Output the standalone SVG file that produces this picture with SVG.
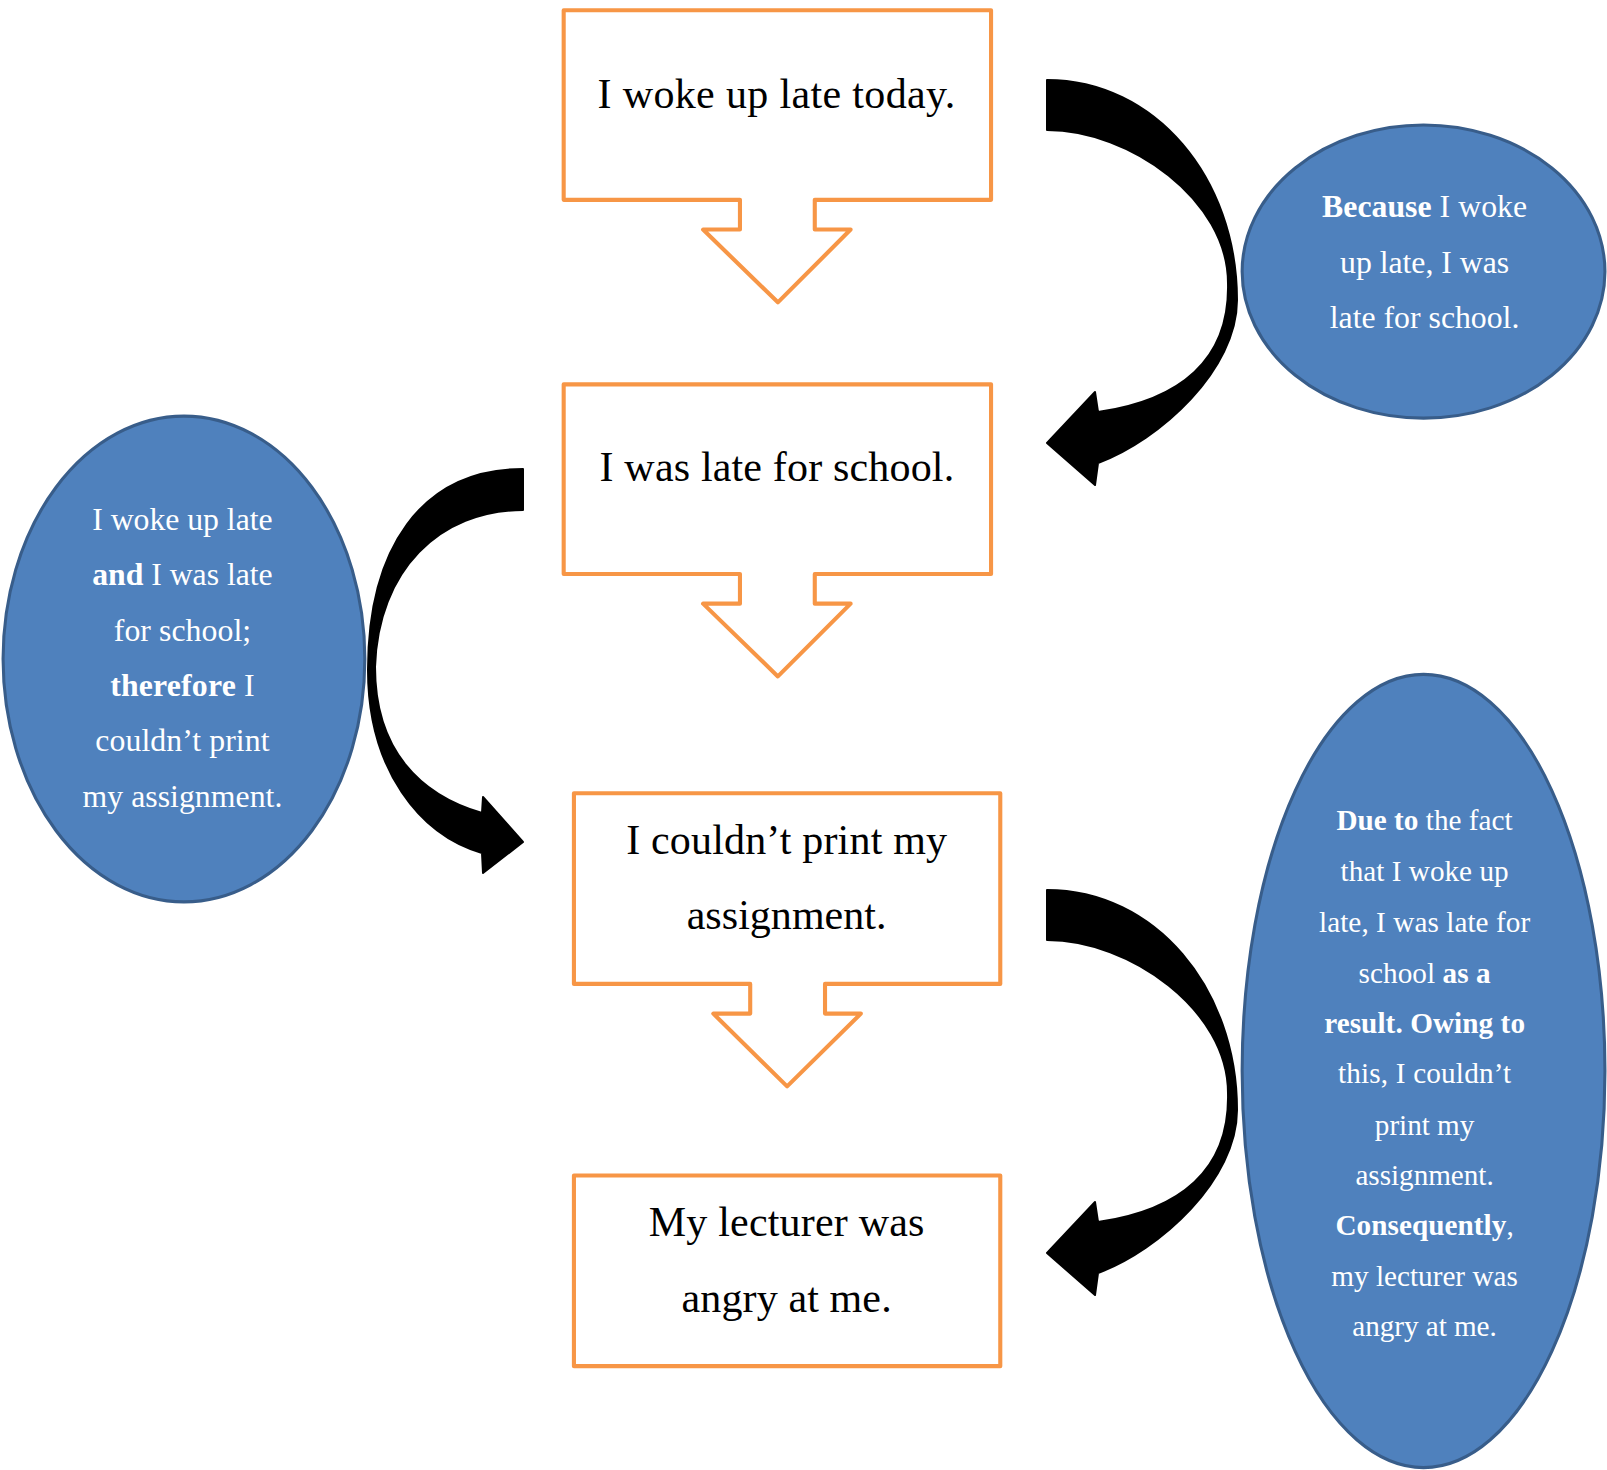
<svg xmlns="http://www.w3.org/2000/svg" width="1607" height="1470" viewBox="0 0 1607 1470">
<style>
.box{fill:#FFFFFF;stroke:#F79646;stroke-width:4;stroke-linejoin:round}
.oval{fill:#4F81BD;stroke:#385D8A;stroke-width:3}
.bt{font-family:"Liberation Serif","Times New Roman",serif;font-size:41px;fill:#000000;text-anchor:middle}
.ot{font-family:"Liberation Serif","Times New Roman",serif;font-size:31px;fill:#FFFFFF;text-anchor:middle}
.ot3{font-family:"Liberation Serif","Times New Roman",serif;font-size:28.5px;fill:#FFFFFF;text-anchor:middle}
.b{font-weight:bold}
.arr{fill:#000000;stroke:#000000;stroke-width:2;stroke-linejoin:round}
</style>
<defs>
<path id="curvedLeft" d="M1047,80 C1155,80 1237,178 1237,300 C1237,370 1160,440 1098,463 L1095,485 L1047,443 L1095,392 L1098,412 C1180,400 1230,360 1228,283 C1228,200 1130,130 1047,130 Z"/>
</defs>
<rect width="1607" height="1470" fill="#FFFFFF"/>
<g id="connectors">
<use href="#curvedLeft" class="arr"/>
<path class="arr" d="M523,469 C420,469 368,550 368,670 C368,770 420,835 482,853 L483,873 L523,842 L483,797 L482,813 C420,795 375,750 375,667 C378,570 440,510 523,510 Z"/>
<use href="#curvedLeft" class="arr" transform="translate(0,810)"/>
</g>
<g transform="scale(1.024872)">
<g id="box1">
<path class="box" d="M550,10 H967 V195 H795 V224 H830 L759,295 L686,224 H722 V195 H550 Z"/>
<text class="bt" x="757.5" y="105" textLength="349" lengthAdjust="spacing">I woke up late today.</text>
</g>
<g id="box2">
<path class="box" d="M550,375 H967 V560 H795 V589 H830 L759,660 L686,589 H722 V560 H550 Z"/>
<text class="bt" x="758" y="469" textLength="346" lengthAdjust="spacing">I was late for school.</text>
</g>
<g id="box3">
<path class="box" d="M560,774 H976 V960 H805 V989 H840 L768,1060 L696,989 H732 V960 H560 Z"/>
<text class="bt" x="767.5" y="833" textLength="313" lengthAdjust="spacing">I couldn’t print my</text>
<text class="bt" x="767.5" y="906" textLength="195" lengthAdjust="spacing">assignment.</text>
</g>
<g id="box4">
<rect class="box" x="560" y="1147" width="416" height="186"/>
<text class="bt" x="767.5" y="1206" textLength="269" lengthAdjust="spacing">My lecturer was</text>
<text class="bt" x="767.5" y="1280" textLength="205" lengthAdjust="spacing">angry at me.</text>
</g>
<g id="oval1">
<ellipse class="oval" cx="1389" cy="265" rx="177" ry="143"/>
<text class="ot" x="1390" y="212" textLength="200" lengthAdjust="spacing"><tspan class="b">Because</tspan> I woke</text>
<text class="ot" x="1390" y="266" textLength="165" lengthAdjust="spacing">up late, I was</text>
<text class="ot" x="1390" y="320" textLength="185" lengthAdjust="spacing">late for school.</text>
</g>
<g id="oval2">
<ellipse class="oval" cx="179.5" cy="643" rx="176.5" ry="237"/>
<text class="ot" x="178" y="517" textLength="176" lengthAdjust="spacing">I woke up late</text>
<text class="ot" x="178" y="571" textLength="176" lengthAdjust="spacing"><tspan class="b">and</tspan> I was late</text>
<text class="ot" x="178" y="625" textLength="134" lengthAdjust="spacing">for school;</text>
<text class="ot" x="178" y="679" textLength="141" lengthAdjust="spacing"><tspan class="b">therefore</tspan> I</text>
<text class="ot" x="178" y="733" textLength="170" lengthAdjust="spacing">couldn’t print</text>
<text class="ot" x="178" y="787" textLength="195" lengthAdjust="spacing">my assignment.</text>
</g>
<g id="oval3">
<ellipse class="oval" cx="1389" cy="1045" rx="177" ry="387"/>
<text class="ot3" x="1390" y="810" textLength="172" lengthAdjust="spacing"><tspan class="b">Due to</tspan> the fact</text>
<text class="ot3" x="1390" y="860" textLength="164" lengthAdjust="spacing">that I woke up</text>
<text class="ot3" x="1390" y="909" textLength="206" lengthAdjust="spacing">late, I was late for</text>
<text class="ot3" x="1390" y="959" textLength="129" lengthAdjust="spacing">school <tspan class="b">as a</tspan></text>
<text class="ot3 b" x="1390" y="1008" textLength="196" lengthAdjust="spacing">result. Owing to</text>
<text class="ot3" x="1390" y="1057" textLength="169" lengthAdjust="spacing">this, I couldn’t</text>
<text class="ot3" x="1390" y="1107" textLength="97" lengthAdjust="spacing">print my</text>
<text class="ot3" x="1390" y="1156" textLength="135" lengthAdjust="spacing">assignment.</text>
<text class="ot3" x="1390" y="1205" textLength="174" lengthAdjust="spacing"><tspan class="b">Consequently</tspan>,</text>
<text class="ot3" x="1390" y="1255" textLength="182" lengthAdjust="spacing">my lecturer was</text>
<text class="ot3" x="1390" y="1304" textLength="141" lengthAdjust="spacing">angry at me.</text>
</g>
</g>
</svg>
